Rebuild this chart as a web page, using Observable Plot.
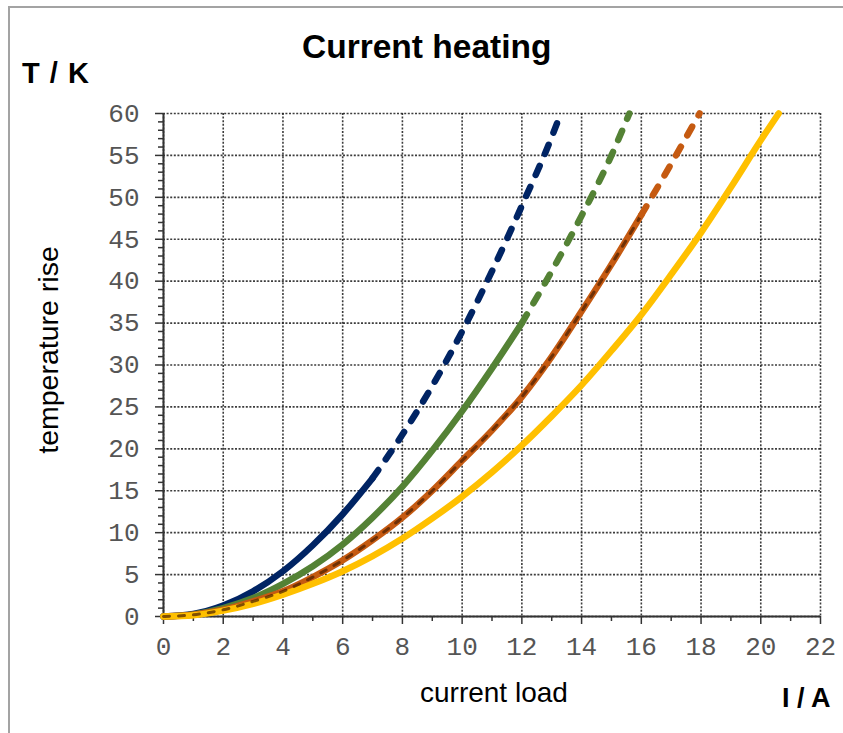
<!DOCTYPE html>
<html>
<head>
<meta charset="utf-8">
<script src="https://cdn.jsdelivr.net/npm/d3@7"></script>
<script src="https://cdn.jsdelivr.net/npm/@observablehq/plot@0.6"></script>
<style>
  html, body { margin: 0; padding: 0; background: #fff; }
  #wrap { position: relative; width: 843px; height: 733px; overflow: hidden; }
  #wrap svg { position: absolute; left: 0; top: 0; }
  .lbl { position: absolute; white-space: nowrap; color: #000; font-family: "Liberation Sans", Arial, sans-serif; line-height: 1; }
  #border { position: absolute; left: 8px; top: 6px; width: 840px; height: 740px; border-left: 2px solid #a3a3a3; border-top: 2px solid #a3a3a3; }
</style>
</head>
<body>
<div id="wrap">
  <div id="border"></div>
</div>
<script>
// ---- data (current load I / A vs temperature rise T / K) ----
const seriesNames = ["blue", "green", "orange", "yellow"];
const currentBlue = [0, 1, 2, 3, 4, 5, 6, 7, 8, 9, 10, 11, 12, 13, 13.3];
const riseBlue    = [0, 0.3, 1.3, 3.0, 5.4, 8.5, 12.2, 16.5, 21.7, 27.5, 34.0, 41.2, 49.0, 57.2, 60];
const currentGreen = [0, 1, 2, 3, 4, 5, 6, 7, 8, 9, 10, 11, 12, 13, 14, 15, 15.6];
const riseGreen    = [0, 0.25, 1.0, 2.2, 3.9, 6.0, 8.6, 11.8, 15.5, 19.8, 24.5, 29.6, 35.0, 41.2, 47.8, 55.0, 60];
const currentOrange = [0, 1, 2, 3, 4, 5, 6, 7, 8, 9, 10, 11, 12, 13, 14, 15, 16, 17, 17.95];
const riseOrange    = [0, 0.2, 0.8, 1.8, 3.0, 4.7, 6.7, 9.1, 11.8, 15.0, 18.6, 22.2, 26.2, 31.0, 36.4, 42.0, 47.9, 54.0, 60];
const currentYellow = [0, 1, 2, 3, 4, 5, 6, 7, 8, 9, 10, 11, 12, 13, 14, 15, 16, 17, 18, 19, 20, 20.6];
const riseYellow    = [0, 0.15, 0.7, 1.5, 2.6, 3.9, 5.4, 7.2, 9.3, 11.7, 14.3, 17.2, 20.4, 23.9, 27.6, 31.7, 36.0, 40.8, 45.8, 51.2, 56.8, 60];
// current where each curve changes from solid to dashed
const dashFrom = {blue: 7, green: 12, orange: 16, yellow: Infinity};

const xTicks = [0, 2, 4, 6, 8, 10, 12, 14, 16, 18, 20, 22];
const xMinor = [1, 3, 5, 7, 9, 11, 13, 15, 17, 19, 21];
const yTicks = [0, 5, 10, 15, 20, 25, 30, 35, 40, 45, 50, 55, 60];
const yMinor = d3.range(0, 61, 1).filter(v => v % 5 !== 0);

const colors = {blue: "#002464", green: "#548235", orange: "#C55A11", yellow: "#FFC000"};

// ---- build table ----
const raw = {
  blue: [currentBlue, riseBlue],
  green: [currentGreen, riseGreen],
  orange: [currentOrange, riseOrange],
  yellow: [currentYellow, riseYellow]
};
const solidRows = [], dashedRows = [];
for (const s of seriesNames) {
  const [I, T] = raw[s];
  I.forEach((x, i) => {
    const row = {s, I: x, T: T[i]};
    if (x <= dashFrom[s]) solidRows.push(row);
    if (x >= dashFrom[s]) dashedRows.push(row);
  });
}
const lineW = 6.5;
const gridStyle = {stroke: "#1a1a1a", strokeOpacity: 0.85, strokeWidth: 1.6, strokeDasharray: "2,1.6"};

const plot = Plot.plot({
  width: 843,
  height: 733,
  marginLeft: 163,
  marginRight: 23,
  marginTop: 113,
  marginBottom: 117,
  style: {background: "transparent", fontFamily: "'Liberation Mono', 'DejaVu Sans Mono', monospace", fontSize: "26px", color: "#555", overflow: "visible"},
  x: {domain: [0, 22]},
  y: {domain: [0, 60]},
  marks: [
    Plot.gridX(xTicks, gridStyle),
    Plot.gridY(yTicks, gridStyle),
    // minor ticks
    Plot.axisY(yMinor, {tickSize: 5, text: null, stroke: "#333", strokeWidth: 1.5, label: null}),
    Plot.axisX(xMinor, {tickSize: 5, text: null, stroke: "#333", strokeWidth: 1.5, label: null}),
    // major ticks
    Plot.axisY(yTicks, {tickSize: 8, text: null, stroke: "#333", strokeWidth: 1.5, label: null}),
    Plot.axisX(xTicks, {tickSize: 8, text: null, stroke: "#333", strokeWidth: 1.5, label: null}),
    // tick labels
    Plot.axisY(yTicks, {tickSize: 0, tickPadding: 24, label: null, fill: "#555"}),
    Plot.axisX(xTicks, {tickSize: 0, tickPadding: 20, label: null, fill: "#555"}),
    // axis lines
    Plot.ruleX([0], {stroke: "#333", strokeWidth: 2}),
    Plot.ruleY([0], {stroke: "#333", strokeWidth: 2}),
    // solid parts
    Plot.line(solidRows, {x: "I", y: "T", z: "s", stroke: d => colors[d.s], strokeWidth: lineW, curve: "monotone-x", strokeLinecap: "round"}),
    // dark dash pattern over the orange solid part
    Plot.line(solidRows.filter(d => d.s === "orange"), {x: "I", y: "T", stroke: "#4a1e00", strokeOpacity: 0.7, strokeWidth: 3, strokeDasharray: "6,9", curve: "monotone-x"}),
    // dashed parts
    Plot.line(dashedRows, {x: "I", y: "T", z: "s", stroke: d => colors[d.s], strokeWidth: lineW, curve: "monotone-x", strokeLinecap: "round", strokeDasharray: "10,13"})
  ]
});
document.getElementById("wrap").appendChild(plot);

function addLabel(text, css) {
  const el = document.createElement("div");
  el.className = "lbl";
  el.textContent = text;
  Object.assign(el.style, css);
  document.getElementById("wrap").appendChild(el);
  return el;
}
addLabel("Current heating", {left: "302px", top: "30px", fontSize: "33.5px", fontWeight: "bold"});
addLabel("T / K", {left: "22px", top: "59px", fontSize: "29px", fontWeight: "bold", letterSpacing: "1px"});
addLabel("current load", {left: "420px", top: "679px", fontSize: "28px"});
addLabel("I / A", {left: "782px", top: "685px", fontSize: "27px", fontWeight: "bold"});
addLabel("temperature rise", {left: "48px", top: "350px", fontSize: "28.5px", transform: "translate(-50%, -50%) rotate(-90deg)"});
</script>
</body>
</html>
